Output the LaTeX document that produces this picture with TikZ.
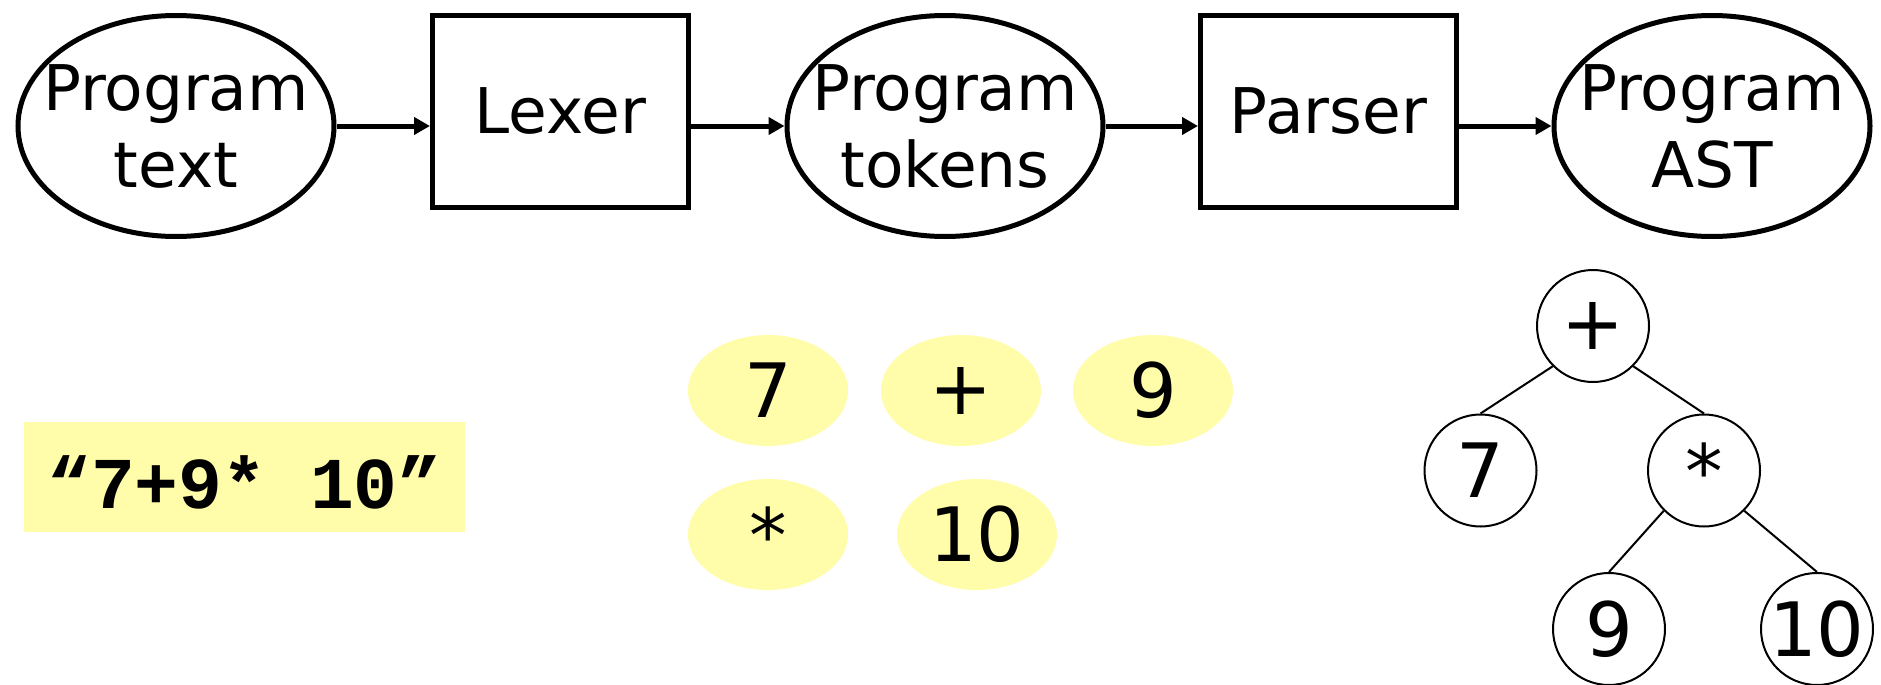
\documentclass[tikz,border=0pt]{standalone}
\usepackage{fontspec}
\setmainfont{DejaVu Sans}
\newfontfamily\codefont{Liberation Mono}
\usetikzlibrary{shapes.geometric,arrows.meta}
\definecolor{tokyellow}{HTML}{FFFCAA}
\begin{document}
\begin{tikzpicture}[x=0.5pt,y=-0.5pt,
  big/.style={font=\fontsize{31.5}{38.5}\selectfont, align=center, inner sep=0pt},
  blob/.style={ellipse, draw, line width=2.5pt, minimum width=158pt, minimum height=110.5pt, inner sep=0pt},
  stage/.style={big, rectangle, draw, line width=2.5pt, minimum width=128pt, minimum height=96pt},
  flow/.style={line width=2.5pt, -{Triangle[length=8pt,width=8.5pt]}},
  token/.style={ellipse, fill=tokyellow, minimum width=80pt, minimum height=55.5pt, inner sep=0pt, font=\fontsize{37.5}{45}\selectfont},
  treenode/.style={circle, draw, line width=1pt, minimum size=56pt, inner sep=0pt, font=\fontsize{37.5}{45}\selectfont},
  treeedge/.style={line width=1pt}]
\useasboundingbox (0,0) rectangle (1881,685);

% pipeline
\node[blob] (ptext) at (176,126) {};
\node[big] (ptextlbl) at (ptext) {Program\\text};
\node[stage] (lexer) at (560.5,111) {Lexer};
\node[blob] (ptok) at (945,126) {};
\node[big] (ptoklbl) at (ptok) {Program\\tokens};
\node[stage] (parser) at (1328.5,111) {Parser};
\node[blob] (past) at (1712,126) {};
\node[big] (pastlbl) at (past) {Program\\AST};

\draw[flow] (ptext.east) -- (ptext.east -| lexer.west);
\draw[flow] (lexer.east |- ptok.west) -- (ptok.west);
\draw[flow] (ptok.east) -- (ptok.east -| parser.west);
\draw[flow] (parser.east |- past.west) -- (past.west);

% program text
\node[fill=tokyellow, minimum width=220.5pt, minimum height=55pt, inner sep=0pt] (codebox) at (244.5,477) {};
\node[font=\codefont\bfseries\fontsize{36.5}{44}\selectfont, inner sep=0pt] (code) at (244.5,482) {“7+9* 10”};

% tokens
\node[token] (t7) at (768,390.5) {7};
\node[token] (tplus) at (961,390.5) {+};
\node[token] (t9) at (1153,390.5) {9};
\node[token] (tstar) at (768,534.5) {*};
\node[token] (t10) at (977,534.5) {10};

% AST
\node[treenode] (nplus) at (1593,326) {+};
\node[treenode] (nseven) at (1480.5,470.5) {7};
\node[treenode] (nstar) at (1704,470.5) {*};
\node[treenode] (nnine) at (1609,629) {9};
\node[treenode] (nten) at (1817,629) {10};
\draw[treeedge] (nplus.south west) -- (nseven.north);
\draw[treeedge] (nplus.south east) -- (nstar.north);
\draw[treeedge] (nstar.south west) -- (nnine.north);
\draw[treeedge] (nstar.south east) -- (nten.north);
\end{tikzpicture}
\end{document}
